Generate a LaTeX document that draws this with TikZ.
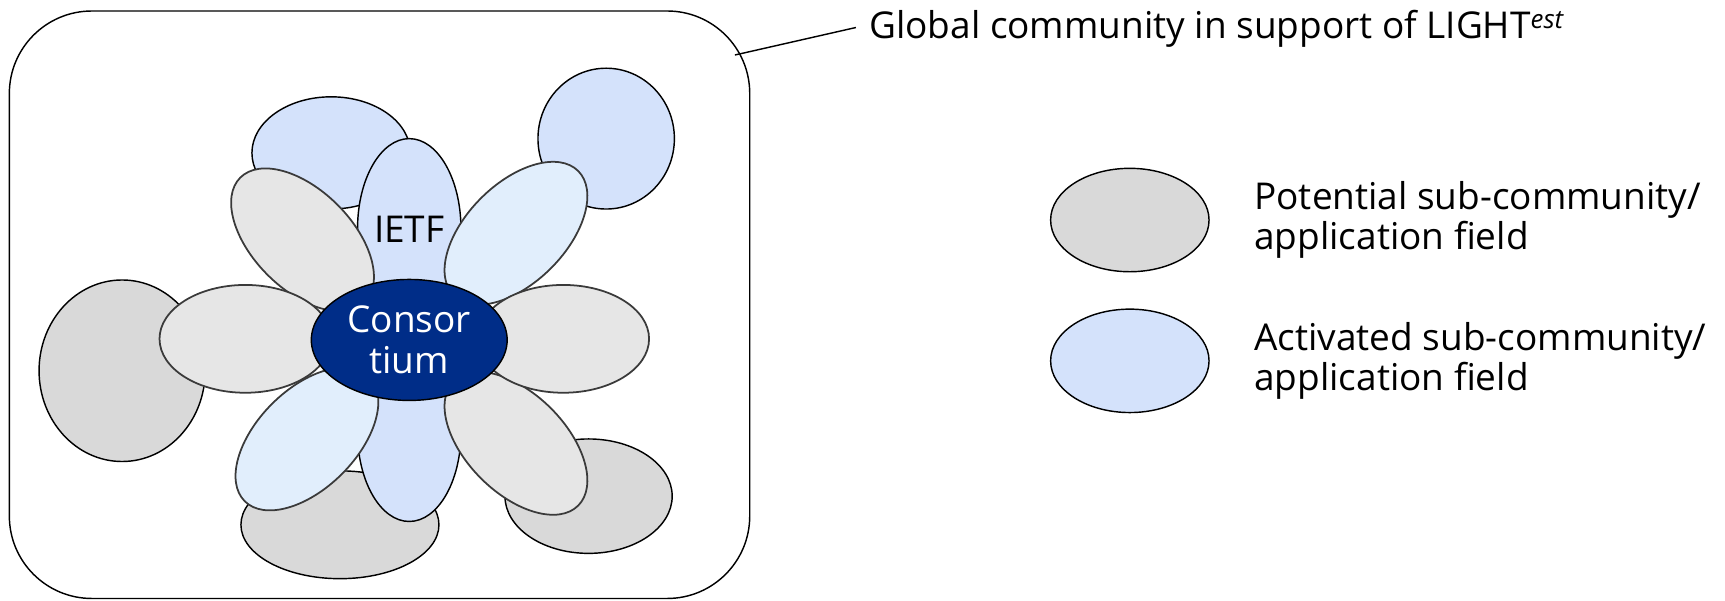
\documentclass[tikz,border=0pt]{standalone}
\usepackage{fontspec}
\setmainfont{Open Sans}
\usepackage{xcolor}
\definecolor{potgray}{HTML}{D9D9D9}
\definecolor{petalgray}{HTML}{E6E6E6}
\definecolor{actblue}{HTML}{D4E2FB}
\definecolor{lightblue}{HTML}{E1EEFC}
\definecolor{consblue}{HTML}{002D88}
\definecolor{petalline}{HTML}{3A3A3A}
\usepackage{tikz}
\usetikzlibrary{shapes.geometric}
\tikzset{
    field/.style = {
      ellipse,
      draw = black,
      line width = 1.3pt,
      inner sep = 0pt
    },
    potential/.style = {
      field,
      fill = potgray
    },
    activated/.style = {
      field,
      fill = actblue
    },
    petal/.style = {
      ellipse,
      draw = petalline,
      line width = 1.6pt,
      inner sep = 0pt,
      minimum width = 160pt,
      minimum height = 90pt
    },
    greypetal/.style = {
      petal,
      fill = petalgray
    },
    bluepetal/.style = {
      petal,
      fill = lightblue
    },
    core/.style = {
      ellipse,
      draw = black,
      line width = 1.3pt,
      fill = consblue,
      text = white,
      align = center,
      inner sep = 0pt,
      minimum width = 178pt,
      minimum height = 110pt
    },
    legend/.style = {
      anchor = west,
      align = left,
      inner sep = 0pt
    }
}

\begin{document}
\begin{tikzpicture}[x=1pt, y=-1pt, font=\fontsize{33.6}{37}\selectfont]
      \useasboundingbox (0,0) rectangle (1568,546);

      \node[draw, line width=1.3pt, rounded corners=75pt,
            minimum width=673pt, minimum height=534pt] (R) at (345,277) {};
      \coordinate (K) at (668,50);
      \node[anchor=base west, inner sep=0pt] (G) at (790,35)
            {Global community in support of LIGHT\textsuperscript{\textit{est}}};
      \draw[line width=1.3pt] (K) -- ([xshift=-12pt, yshift=10pt]G.base west);

      % outer fields
      \node[activated, minimum width=144pt, minimum height=102pt] (A1) at (301,139) {};
      \node[activated, minimum width=124pt, minimum height=128pt] (A2) at (551,126) {};
      \node[potential, minimum width=151pt, minimum height=165pt] (P1) at (111,337) {};
      \node[potential, minimum width=180pt, minimum height=98pt]  (P2) at (309,477) {};
      \node[potential, minimum width=152pt, minimum height=104pt] (P3) at (535,451) {};

      % flower
      \node[activated, minimum width=94pt, minimum height=164pt] (N) at (372,208) {IETF};
      \node[activated, minimum width=94pt, minimum height=162pt] (S) at (372,393) {};
      \node[greypetal, rotate=-45] (NW) at (275,218) {};
      \node[bluepetal, rotate=45]  (NE) at (469,212) {};
      \node[bluepetal, rotate=45]  (SW) at (279,399) {};
      \node[greypetal, rotate=-45] (SE) at (469,403) {};
      \node[greypetal, minimum width=156pt, minimum height=98pt] (W) at (223,308) {};
      \node[greypetal, minimum width=156pt, minimum height=98pt] (E) at (512,308) {};
      \node[core] (C) at (372,309) {Consor\\tium};

      % legend
      \node[potential, minimum width=144pt, minimum height=94pt] (LP) at (1027,200) {};
      \node[activated, minimum width=144pt, minimum height=94pt] (LA) at (1027,328) {};
      \node[legend] (TP) at (1140,200) {Potential sub-community/\\application field};
      \node[legend] (TA) at (1140,328) {Activated sub-community/\\application field};
\end{tikzpicture}
\end{document}
